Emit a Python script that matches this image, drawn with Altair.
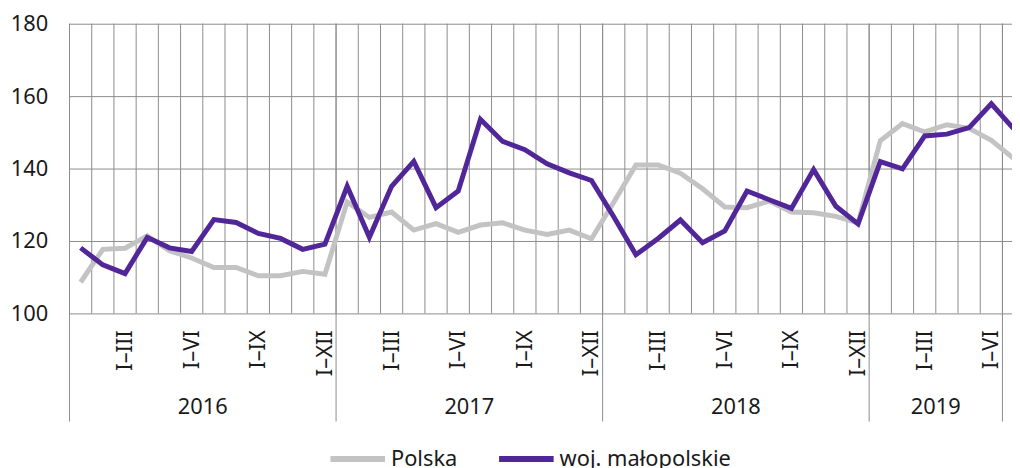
import altair as alt
import pandas as pd

# month index 0 = I 2016
polska = [108.6, 117.7, 118.0, 121.4, 117.3, 115.3, 112.7, 112.7, 110.4, 110.4, 111.6, 110.8,
          130.8, 126.5, 128.0, 123.0, 124.8, 122.4, 124.4, 125.0, 123.0, 121.8, 123.0, 120.6,
          130.7, 141.0, 141.0, 138.7, 134.4, 129.4, 129.2, 131.0, 128.0, 127.8, 126.8, 125.0,
          147.7, 152.4, 150.1, 152.1, 151.1, 147.8, 142.8]
malopolskie = [118.1, 113.4, 111.0, 121.0, 118.1, 117.1, 125.9, 125.1, 122.1, 120.7, 117.7, 119.1,
               135.1, 121.0, 135.1, 142.0, 129.2, 133.8, 153.6, 147.5, 145.2, 141.3, 138.8, 136.7,
               126.7, 116.2, 120.7, 125.8, 119.5, 122.8, 133.8, 131.4, 129.0, 139.7, 129.6, 124.7,
               141.9, 139.9, 149.0, 149.5, 151.3, 157.9, 151.0]
series_names = ["Polska", "woj. małopolskie"]
series_colors = ["#c3c3c3", "#512698"]

period_labels = ["I–III", "I–VI", "I–IX", "I–XII",
                 "I–III", "I–VI", "I–IX", "I–XII",
                 "I–III", "I–VI", "I–IX", "I–XII",
                 "I–III", "I–VI"]
period_month = [3, 6, 9, 12, 15, 18, 21, 24, 27, 30, 33, 36, 39, 42]  # last month of period
years = ["2016", "2017", "2018", "2019"]
year_start = [0, 12, 24, 36]
year_end = [12, 24, 36, 42]
month_bounds = list(range(43))
x_max = 42.43
FONT = "Noto Sans"
GRID = "#8c8c8c"
TXT = "#1a1a1a"
FS = 22

rows = []
for i, v in enumerate(polska):
    rows.append({"m": i + 0.5, "v": v, "s": series_names[0]})
for i, v in enumerate(malopolskie):
    rows.append({"m": i + 0.5, "v": v, "s": series_names[1]})
df = pd.DataFrame(rows)

xs = alt.Scale(domain=[0, x_max], nice=False, zero=False)
ys = alt.Scale(domain=[100, 180], nice=False, zero=False)
yaxis = alt.Axis(values=[100, 120, 140, 160, 180], grid=True, gridColor=GRID, gridWidth=1,
                 ticks=False, domain=False, title=None, labelFontSize=FS,
                 labelFont=FONT, labelColor=TXT, labelPadding=22)

gdf = pd.DataFrame({"b": month_bounds})
month_grid = alt.Chart(gdf).mark_rule(color=GRID, strokeWidth=1).encode(
    x=alt.X("b:Q", scale=xs, axis=None), y=alt.value(0), y2=alt.value(292))

lines = alt.Chart(df).mark_line(strokeWidth=5, clip=True).encode(
    x=alt.X("m:Q", scale=xs, axis=None),
    y=alt.Y("v:Q", scale=ys, axis=yaxis),
    color=alt.Color("s:N", scale=alt.Scale(domain=series_names, range=series_colors),
                    legend=alt.Legend(title=None, orient="none", direction="horizontal",
                                      legendX=260, legendY=408, symbolType="stroke",
                                      symbolSize=3025, symbolStrokeWidth=6,
                                      labelFontSize=FS, labelFont=FONT, labelColor=TXT,
                                      labelOffset=3, columnPadding=30, padding=0,
                                      labelLimit=300)),
    order=alt.Order("s:N"),
)

pdf = pd.DataFrame({"lab": period_labels, "m": [p - 0.5 for p in period_month]})
period_text = alt.Chart(pdf).mark_text(angle=270, align="right", baseline="middle",
                                       fontSize=FS, font=FONT, color=TXT).encode(
    x=alt.X("m:Q", scale=xs, axis=None), y=alt.value(309), text="lab:N")

ydf = pd.DataFrame({"year": years, "mid": [(a + b) / 2 for a, b in zip(year_start, year_end)]})
year_text = alt.Chart(ydf).mark_text(align="center", baseline="middle", fontSize=FS,
                                     font=FONT, color=TXT).encode(
    x=alt.X("mid:Q", scale=xs, axis=None), y=alt.value(386), text="year:N")

bdf = pd.DataFrame({"b": year_start + [year_end[-1]]})
year_rules = alt.Chart(bdf).mark_rule(color=GRID, strokeWidth=1).encode(
    x=alt.X("b:Q", scale=xs, axis=None), y=alt.value(0), y2=alt.value(401))

chart = alt.layer(month_grid, year_rules, lines, period_text, year_text).properties(
    width=950, height=292,
    autosize=alt.AutoSizeParams(type="none"),
    padding={"left": 62, "top": 14, "right": 0, "bottom": 154},
).configure_view(stroke=None)

chart.save("out.html", embed_options={"renderer": "svg", "actions": False})
